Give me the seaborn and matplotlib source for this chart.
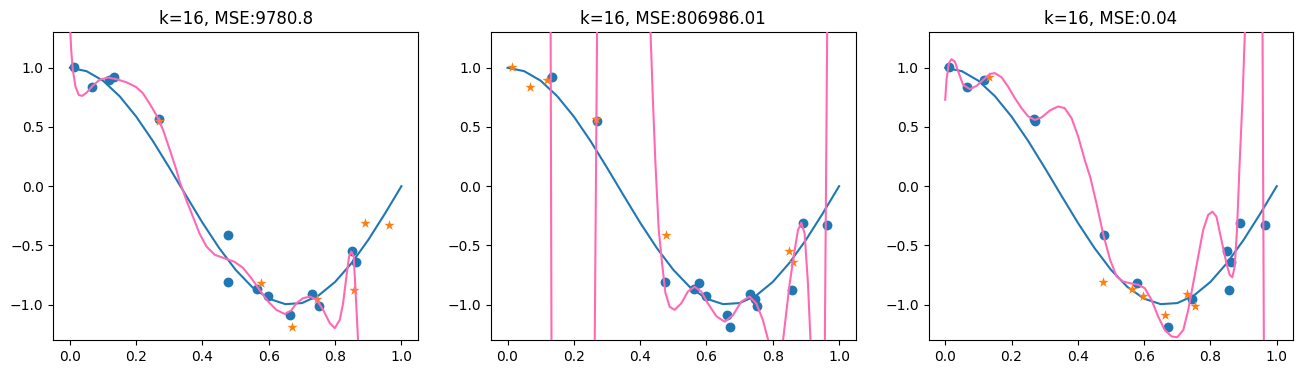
import numpy as np
import seaborn as sns
import matplotlib
matplotlib.use("Agg")
import matplotlib.pyplot as plt

# --- sample points ---
pts_x = [0.012, 0.067, 0.118, 0.133, 0.268, 0.270, 0.478, 0.476, 0.563, 0.577, 0.598,
         0.663, 0.671, 0.730, 0.745, 0.752, 0.850, 0.862, 0.857, 0.890, 0.963]
pts_y = [1.01, 0.84, 0.90, 0.92, 0.57, 0.55, -0.41, -0.81, -0.87, -0.82, -0.93,
         -1.09, -1.19, -0.91, -0.95, -1.01, -0.55, -0.64, -0.88, -0.31, -0.33]

# test indices for each fold (stars); the rest are training points (circles)
fold_test = [
    [5, 9, 12, 14, 18, 19, 20],
    [0, 1, 2, 4, 6, 16, 17],
    [3, 7, 8, 10, 11, 13, 15],
]
titles = ["k=16, MSE:9780.8", "k=16, MSE:806986.01", "k=16, MSE:0.04"]

# true curve (blue)
true_x = [0.00, 0.05, 0.10, 0.15, 0.20, 0.25, 0.30, 0.35, 0.40, 0.45, 0.50,
          0.55, 0.60, 0.65, 0.70, 0.75, 0.80, 0.85, 0.90, 0.95, 1.00]
true_y = [1.000, 0.972, 0.891, 0.760, 0.588, 0.383, 0.156, -0.078, -0.309, -0.522, -0.707,
          -0.853, -0.951, -0.997, -0.988, -0.924, -0.809, -0.649, -0.454, -0.233, 0.000]

# fitted polynomials (pink), one per fold
fit1_x = [0.000, 0.004, 0.009, 0.017, 0.027, 0.037, 0.049, 0.069, 0.090, 0.115, 0.140,
          0.170, 0.200, 0.220, 0.240, 0.261, 0.281, 0.301, 0.321, 0.331, 0.351, 0.371,
          0.391, 0.412, 0.437, 0.467, 0.497, 0.522, 0.548, 0.573, 0.598, 0.623, 0.648,
          0.668, 0.683, 0.703, 0.724, 0.744, 0.764, 0.784, 0.799, 0.814, 0.824, 0.834,
          0.842, 0.849, 0.856, 0.861, 0.866, 0.869, 0.875, 0.900]
fit1_y = [1.38, 1.15, 0.98, 0.84, 0.77, 0.763, 0.786, 0.848, 0.90, 0.918, 0.904,
          0.879, 0.837, 0.786, 0.70, 0.60, 0.476, 0.31, 0.14, 0.04, -0.116, -0.257,
          -0.40, -0.51, -0.58, -0.61, -0.64, -0.69, -0.78, -0.88, -0.975, -1.046, -1.08,
          -1.05, -0.99, -0.947, -0.933, -0.96, -1.046, -1.158, -1.20, -1.13, -0.99, -0.764,
          -0.595, -0.553, -0.595, -0.85, -1.13, -1.30, -2.0, -6.0]

fit2_x = [0.000, 0.120, 0.1300, 0.1325, 0.140, 0.200, 0.255, 0.2630, 0.2700, 0.280,
          0.350, 0.425, 0.431, 0.438, 0.446, 0.456, 0.466, 0.476, 0.489, 0.504, 0.524,
          0.544, 0.564, 0.584, 0.604, 0.630, 0.655, 0.680, 0.705, 0.730, 0.750, 0.770,
          0.786, 0.810, 0.831, 0.851, 0.866, 0.876, 0.886, 0.896, 0.906, 0.914, 0.935,
          0.957, 0.964, 0.980, 1.000]
fit2_y = [10.0, 8.0, 1.3, -1.3, -8.0, -10.0, -8.0, -1.3, 1.3, 8.0,
          10.0, 3.0, 1.32, 0.757, 0.194, -0.37, -0.65, -0.90, -1.02, -1.045, -0.99,
          -0.89, -0.85, -0.89, -0.99, -1.10, -1.145, -1.09, -0.975, -0.933, -0.99, -1.13,
          -1.30, -1.6, -1.3, -0.82, -0.54, -0.37, -0.31, -0.40, -0.82, -1.32, -3.0,
          -1.3, 1.3, 5.0, 10.0]

fit3_x = [0.000, 0.004, 0.011, 0.019, 0.029, 0.039, 0.054, 0.074, 0.095, 0.115, 0.135,
          0.150, 0.170, 0.190, 0.210, 0.230, 0.250, 0.270, 0.290, 0.316, 0.340, 0.360,
          0.381, 0.401, 0.421, 0.438, 0.456, 0.476, 0.497, 0.517, 0.537, 0.557, 0.582,
          0.602, 0.622, 0.642, 0.662, 0.683, 0.700, 0.718, 0.733, 0.748, 0.763, 0.778,
          0.793, 0.806, 0.818, 0.833, 0.848, 0.858, 0.866, 0.873, 0.880, 0.888, 0.897,
          0.904, 0.915, 0.940, 0.955, 0.957, 0.961, 0.965, 1.000]
fit3_y = [0.73, 0.90, 1.04, 1.073, 1.053, 0.97, 0.856, 0.82, 0.848, 0.90, 0.949,
          0.955, 0.92, 0.84, 0.744, 0.66, 0.59, 0.56, 0.58, 0.64, 0.673, 0.66,
          0.575, 0.42, 0.22, 0.07, -0.144, -0.40, -0.62, -0.764, -0.806, -0.82, -0.834,
          -0.862, -0.96, -1.10, -1.215, -1.27, -1.277, -1.215, -1.046, -0.82, -0.595, -0.37,
          -0.243, -0.215, -0.257, -0.454, -0.65, -0.75, -0.77, -0.68, -0.37, 0.194, 0.757,
          1.32, 3.0, 5.0, 2.0, 1.3, -1.3, -3.0, -10.0]

fits = [(fit1_x, fit1_y), (fit2_x, fit2_y), (fit3_x, fit3_y)]

pts_x = np.array(pts_x)
pts_y = np.array(pts_y)

fig, axes = plt.subplots(1, 3, figsize=(13.03, 3.74), dpi=100)
fig.subplots_adjust(left=0.0409, right=0.9926, bottom=0.0909, top=0.9136, wspace=0.2)

for i, ax in enumerate(axes):
    test = np.zeros(len(pts_x), dtype=bool)
    test[fold_test[i]] = True

    sns.lineplot(x=true_x, y=true_y, ax=ax, color="#1f77b4", linewidth=1.5)
    sns.scatterplot(x=pts_x[~test], y=pts_y[~test], ax=ax, color="#1f77b4",
                    marker="o", s=50, linewidth=0, zorder=3)
    sns.scatterplot(x=pts_x[test], y=pts_y[test], ax=ax, color="#ff7f0e",
                    marker="*", s=60, linewidth=0, zorder=3)
    fx, fy = fits[i]
    sns.lineplot(x=fx, y=fy, ax=ax, color="hotpink", linewidth=1.5, sort=False, zorder=4)

    ax.set_xlim(-0.05, 1.05)
    ax.set_ylim(-1.3, 1.3)
    ax.set_xticks([0.0, 0.2, 0.4, 0.6, 0.8, 1.0])
    ax.set_yticks([-1.0, -0.5, 0.0, 0.5, 1.0])
    ax.set_title(titles[i], fontsize=12)
    ax.set_xlabel("")
    ax.set_ylabel("")

plt.savefig("out.png", dpi=100)
